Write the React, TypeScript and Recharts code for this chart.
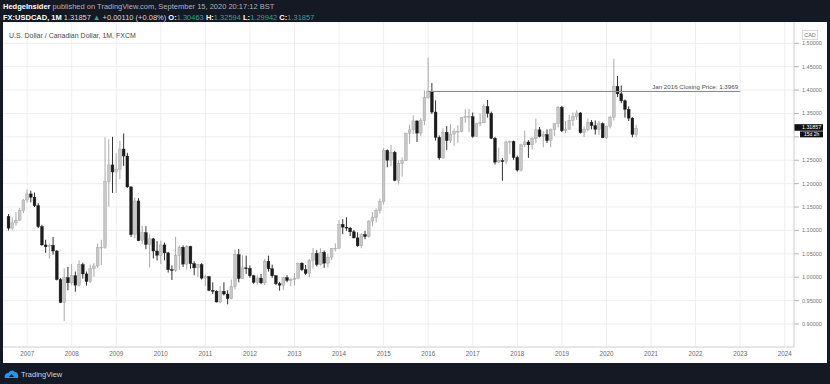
import React from 'react'
import { ComposedChart, Bar, XAxis, YAxis, CartesianGrid, ReferenceLine } from 'recharts'

// axis runs monthly from Jul 2006 to Mar 2024, candles start Aug 2006
const axisStart = { year: 2006, month: 6 }
const axisMonths = 213
const candleStart = { year: 2006, month: 7 }

// USD/CAD monthly OHLC, one line per year (2006 starts in Aug, 2020 ends in Sep)
const opens = [
  1.130, 1.105, 1.116, 1.122, 1.142,
  1.165, 1.178, 1.171, 1.153, 1.108, 1.069, 1.065, 1.068, 1.056, 0.995, 0.946, 0.999,
  0.988, 1.003, 0.983, 1.027, 1.007, 0.991, 1.018, 1.024, 1.063, 1.064, 1.204, 1.240,
  1.225, 1.231, 1.274, 1.259, 1.193, 1.091, 1.163, 1.078, 1.095, 1.070, 1.082, 1.056,
  1.047, 1.069, 1.052, 1.016, 1.015, 1.046, 1.064, 1.028, 1.066, 1.029, 1.020, 1.027,
  0.998, 1.001, 0.972, 0.970, 0.947, 0.970, 0.964, 0.954, 0.980, 1.048, 0.997, 1.020,
  1.019, 1.003, 0.989, 0.998, 0.988, 1.034, 1.018, 1.003, 0.986, 0.983, 0.999, 0.993,
  0.995, 0.998, 1.030, 1.016, 1.008, 1.036, 1.051, 1.027, 1.053, 1.030, 1.043, 1.061,
  1.062, 1.113, 1.107, 1.105, 1.097, 1.084, 1.067, 1.091, 1.087, 1.120, 1.127, 1.143,
  1.162, 1.271, 1.250, 1.267, 1.207, 1.243, 1.249, 1.308, 1.315, 1.334, 1.308, 1.335,
  1.384, 1.397, 1.353, 1.299, 1.255, 1.310, 1.292, 1.306, 1.311, 1.312, 1.341, 1.343,
  1.343, 1.301, 1.328, 1.330, 1.365, 1.350, 1.297, 1.246, 1.249, 1.248, 1.289, 1.290,
  1.256, 1.229, 1.283, 1.289, 1.283, 1.296, 1.315, 1.301, 1.305, 1.292, 1.316, 1.328,
  1.363, 1.313, 1.316, 1.335, 1.343, 1.351, 1.309, 1.316, 1.331, 1.324, 1.316, 1.328,
  1.298, 1.323, 1.342, 1.408, 1.392, 1.377, 1.359, 1.340, 1.30463,
]
const highs = [
  1.135, 1.128, 1.139, 1.148, 1.167,
  1.188, 1.185, 1.181, 1.158, 1.112, 1.080, 1.072, 1.086, 1.058, 0.998, 1.019, 1.022,
  1.028, 1.012, 1.036, 1.031, 1.012, 1.027, 1.030, 1.072, 1.080, 1.299, 1.295, 1.300,
  1.265, 1.291, 1.307, 1.266, 1.194, 1.170, 1.169, 1.110, 1.109, 1.092, 1.084, 1.077,
  1.078, 1.074, 1.054, 1.025, 1.086, 1.068, 1.068, 1.069, 1.067, 1.034, 1.028, 1.030,
  1.005, 1.003, 0.989, 0.972, 0.981, 0.989, 0.972, 0.995, 1.059, 1.060, 1.047, 1.046,
  1.025, 1.005, 1.004, 1.007, 1.039, 1.046, 1.027, 1.005, 0.990, 1.001, 1.004, 0.998,
  1.009, 1.031, 1.032, 1.026, 1.039, 1.062, 1.058, 1.062, 1.057, 1.050, 1.062, 1.072,
  1.122, 1.124, 1.128, 1.107, 1.101, 1.096, 1.094, 1.099, 1.122, 1.139, 1.147, 1.168,
  1.276, 1.273, 1.283, 1.270, 1.250, 1.256, 1.309, 1.326, 1.346, 1.335, 1.340, 1.399,
  1.469, 1.415, 1.378, 1.303, 1.318, 1.323, 1.327, 1.318, 1.325, 1.342, 1.359, 1.360,
  1.352, 1.330, 1.350, 1.370, 1.379, 1.354, 1.300, 1.277, 1.255, 1.292, 1.292, 1.292,
  1.260, 1.285, 1.313, 1.293, 1.299, 1.339, 1.321, 1.312, 1.316, 1.318, 1.329, 1.366,
  1.366, 1.334, 1.347, 1.352, 1.357, 1.353, 1.322, 1.339, 1.336, 1.335, 1.334, 1.331,
  1.324, 1.345, 1.467, 1.430, 1.410, 1.380, 1.365, 1.342, 1.32594,
]
const lows = [
  1.100, 1.100, 1.110, 1.120, 1.137,
  1.159, 1.160, 1.150, 1.105, 1.067, 1.052, 1.040, 1.048, 0.993, 0.945, 0.906, 0.972,
  0.983, 0.969, 0.980, 0.997, 0.982, 0.988, 1.001, 1.020, 1.026, 1.061, 1.151, 1.180,
  1.180, 1.210, 1.238, 1.191, 1.086, 1.083, 1.077, 1.071, 1.060, 1.021, 1.040, 1.036,
  1.028, 1.036, 1.010, 0.994, 1.011, 1.016, 1.022, 1.016, 1.018, 1.004, 1.000, 0.995,
  0.981, 0.970, 0.964, 0.946, 0.944, 0.961, 0.942, 0.953, 0.974, 0.989, 0.997, 1.007,
  0.999, 0.986, 0.984, 0.985, 0.983, 1.012, 0.999, 0.983, 0.971, 0.973, 0.989, 0.981,
  0.982, 0.996, 1.013, 1.005, 1.000, 1.019, 1.023, 1.025, 1.020, 1.021, 1.037, 1.055,
  1.061, 1.092, 1.099, 1.088, 1.083, 1.065, 1.062, 1.081, 1.085, 1.109, 1.117, 1.136,
  1.155, 1.235, 1.237, 1.205, 1.198, 1.215, 1.248, 1.285, 1.306, 1.289, 1.301, 1.325,
  1.381, 1.349, 1.292, 1.251, 1.253, 1.272, 1.287, 1.281, 1.287, 1.310, 1.330, 1.310,
  1.298, 1.300, 1.323, 1.329, 1.341, 1.295, 1.241, 1.244, 1.206, 1.242, 1.263, 1.251,
  1.226, 1.226, 1.278, 1.255, 1.273, 1.286, 1.299, 1.278, 1.287, 1.278, 1.302, 1.320,
  1.310, 1.308, 1.316, 1.323, 1.336, 1.307, 1.300, 1.312, 1.316, 1.305, 1.304, 1.297,
  1.295, 1.318, 1.335, 1.385, 1.372, 1.341, 1.334, 1.299, 1.29942,
]
const closes = [
  1.105, 1.116, 1.122, 1.142, 1.165,
  1.178, 1.171, 1.153, 1.108, 1.069, 1.065, 1.068, 1.056, 0.995, 0.946, 0.999, 0.988,
  1.003, 0.983, 1.027, 1.007, 0.991, 1.018, 1.024, 1.063, 1.064, 1.204, 1.240, 1.225,
  1.231, 1.274, 1.259, 1.193, 1.091, 1.163, 1.078, 1.095, 1.070, 1.082, 1.056, 1.047,
  1.069, 1.052, 1.016, 1.015, 1.046, 1.064, 1.028, 1.066, 1.029, 1.020, 1.027, 0.998,
  1.001, 0.972, 0.970, 0.947, 0.970, 0.964, 0.954, 0.980, 1.048, 0.997, 1.020, 1.019,
  1.003, 0.989, 0.998, 0.988, 1.034, 1.018, 1.003, 0.986, 0.983, 0.999, 0.993, 0.995,
  0.998, 1.030, 1.016, 1.008, 1.036, 1.051, 1.027, 1.053, 1.030, 1.043, 1.061, 1.062,
  1.113, 1.107, 1.105, 1.097, 1.084, 1.067, 1.091, 1.087, 1.120, 1.127, 1.143, 1.162,
  1.271, 1.250, 1.267, 1.207, 1.243, 1.249, 1.308, 1.315, 1.334, 1.308, 1.335, 1.384,
  1.397, 1.353, 1.299, 1.255, 1.310, 1.292, 1.306, 1.311, 1.312, 1.341, 1.343, 1.343,
  1.301, 1.328, 1.330, 1.365, 1.350, 1.297, 1.246, 1.249, 1.248, 1.289, 1.290, 1.256,
  1.229, 1.283, 1.289, 1.283, 1.296, 1.315, 1.301, 1.305, 1.292, 1.316, 1.328, 1.363,
  1.313, 1.316, 1.335, 1.343, 1.351, 1.309, 1.316, 1.331, 1.324, 1.316, 1.328, 1.298,
  1.323, 1.342, 1.408, 1.392, 1.377, 1.359, 1.340, 1.305, 1.31857,
]

const yearLabels = [
  '2007', '2008', '2009', '2010', '2011', '2012', '2013', '2014', '2015',
  '2016', '2017', '2018', '2019', '2020', '2021', '2022', '2023', '2024',
]
const priceTicks = [0.9, 0.95, 1.0, 1.05, 1.1, 1.15, 1.2, 1.25, 1.3, 1.35, 1.4, 1.45, 1.5]
const priceDomain = [0.8508, 1.5455]

const jan2016Close = 1.3969
const lineFrom = '2016-01'
const lineTo = '2023-01'
const lastPrice = 1.31857
const timeLeft = '15d 2h'

const monthKey = (y: number, m: number) => `${y}-${String(m + 1).padStart(2, '0')}`

const candleOffset =
  (candleStart.year - axisStart.year) * 12 + candleStart.month - axisStart.month

const rows = Array.from({ length: axisMonths }, (_, i) => {
  const t = axisStart.month + i
  const key = monthKey(axisStart.year + Math.floor(t / 12), t % 12)
  const j = i - candleOffset
  if (j < 0 || j >= closes.length) return { key }
  return {
    key,
    o: opens[j],
    h: highs[j],
    l: lows[j],
    c: closes[j],
    range: [lows[j], highs[j]],
  }
})

const yearKeys = yearLabels.map((y) => `${y}-01`)

const UP_FILL = '#c7c7c7'
const UP_LINE = '#9f9f9f'
const DOWN = '#1b1b1b'

function Candle(props: any) {
  const { x, y, width, height, payload } = props
  if (!payload || payload.o == null || !isFinite(height) || height === 0) return null
  const { o, h, l, c } = payload
  const top = Math.min(y, y + height)
  const span = Math.abs(height)
  const px = span / (h - l)
  const yOf = (v: number) => top + (h - v) * px
  const cx = x + width / 2
  const up = c >= o
  const bTop = yOf(Math.max(o, c))
  const bBot = yOf(Math.min(o, c))
  const bw = 2.8
  return (
    <g>
      <line x1={cx} x2={cx} y1={top} y2={top + span} stroke={up ? UP_LINE : DOWN} strokeWidth={0.9} />
      <rect
        x={cx - bw / 2}
        y={bTop}
        width={bw}
        height={Math.max(bBot - bTop, 0.8)}
        fill={up ? UP_FILL : DOWN}
        stroke={up ? UP_LINE : DOWN}
        strokeWidth={0.4}
      />
    </g>
  )
}

// price labels; the one under the last-price tag is hidden like on TradingView
function PriceTick(props: any) {
  const { x, y, payload } = props
  const v = payload?.value
  if (v == null || Math.abs(v - lastPrice) < 0.025) return null
  return (
    <text x={x} y={y} dy="0.36em" fontSize={5.5} fill="#747474">
      {Number(v).toFixed(5)}
    </text>
  )
}

function PriceTag(props: any) {
  const vb = props.viewBox
  if (!vb) return null
  const x = vb.x + vb.width
  const y = vb.y
  return (
    <g>
      <rect x={x} y={y - 4} width={29} height={6.6} fill="#111" />
      <text x={x + 8} y={y + 1.2} fontSize={5.3} fill="#fff">
        {lastPrice.toFixed(5)}
      </text>
      <rect x={x + 6} y={y + 3.2} width={23} height={6} fill="#111" />
      <text x={x + 10} y={y + 8} fontSize={5} fill="#fff">
        {timeLeft}
      </text>
    </g>
  )
}

function LineNote(props: any) {
  const vb = props.viewBox
  if (!vb) return null
  return (
    <text x={vb.x + vb.width - 2} y={vb.y - 2.5} textAnchor="end" fontSize={6.2} fill="#4d4d4d">
      Jan 2016 Closing Price: {jan2016Close.toFixed(4)}
    </text>
  )
}

const font = '"Liberation Sans", Arial, sans-serif'
const teal = '#26a69a'

export default function App() {
  return (
    <div
      style={{
        position: 'absolute',
        left: 0,
        top: 0,
        width: 830,
        height: 384,
        background: '#151924',
        overflow: 'hidden',
        fontFamily: font,
      }}
    >
      <div style={{ position: 'absolute', left: 3, top: 2, fontSize: 7.5, lineHeight: '9px', color: '#aeb1ba', whiteSpace: 'nowrap' }}>
        <b style={{ color: '#fff' }}>HedgeInsider</b> published on TradingView.com, September 15, 2020 20:17:12 BST
      </div>
      <div style={{ position: 'absolute', left: 3, top: 13, fontSize: 7.5, lineHeight: '9px', color: '#d8d8d8', whiteSpace: 'nowrap' }}>
        <b style={{ color: '#fff' }}>FX:USDCAD, 1M</b> 1.31857 <span style={{ color: teal }}>▲</span> +0.00110 (+0.08%){' '}
        <b style={{ color: '#fff' }}>O:</b><span style={{ color: teal }}>1.30463</span>{' '}
        <b style={{ color: '#fff' }}>H:</b><span style={{ color: teal }}>1.32594</span>{' '}
        <b style={{ color: '#fff' }}>L:</b><span style={{ color: teal }}>1.29942</span>{' '}
        <b style={{ color: '#fff' }}>C:</b><span style={{ color: teal }}>1.31857</span>
      </div>

      <div style={{ position: 'absolute', left: 3, top: 22, width: 824, height: 341, background: '#fff' }}>
        <ComposedChart
          width={824}
          height={341}
          data={rows}
          margin={{ top: 0, right: 0, bottom: 0, left: 0 }}
          barCategoryGap="8%"
          style={{ fontFamily: font }}
        >
          <CartesianGrid stroke="#eeeff2" strokeWidth={1} />
          <XAxis
            dataKey="key"
            ticks={yearKeys}
            interval={0}
            height={16}
            tickFormatter={(v: string) => String(v).slice(0, 4)}
            tick={{ fontSize: 6.3, fill: '#6a6a6a' }}
            tickLine={false}
            tickSize={5}
            tickMargin={0}
            axisLine={{ stroke: '#d4d6db' }}
          />
          <YAxis
            orientation="right"
            width={33}
            domain={priceDomain}
            allowDataOverflow
            ticks={priceTicks}
            interval={0}
            tick={<PriceTick />}
            tickLine={{ stroke: '#b5b5b5' }}
            tickSize={5}
            tickMargin={3}
            axisLine={{ stroke: '#d4d6db' }}
          />
          <Bar dataKey="range" shape={<Candle />} isAnimationActive={false} />
          <ReferenceLine
            segment={[
              { x: lineFrom, y: jan2016Close },
              { x: lineTo, y: jan2016Close },
            ]}
            stroke="#8a8a8a"
            strokeWidth={1}
            label={<LineNote />}
          />
          <ReferenceLine y={lastPrice} stroke="none" label={<PriceTag />} />
        </ComposedChart>
        <div style={{ position: 'absolute', left: 6, top: 8.5, fontSize: 7, lineHeight: '9px', color: '#4a4a4a', whiteSpace: 'nowrap' }}>
          U.S. Dollar / Canadian Dollar, 1M, FXCM
        </div>
        <div
          style={{
            position: 'absolute',
            left: 799,
            top: 8,
            width: 14,
            height: 8,
            border: '0.5px solid #d9d9d9',
            fontSize: 5.5,
            lineHeight: '8px',
            textAlign: 'center',
            color: '#777',
          }}
        >
          CAD
        </div>
      </div>

      <div style={{ position: 'absolute', left: 4, top: 369, display: 'flex', alignItems: 'center' }}>
        <svg width={15} height={10} viewBox="0 0 15 10">
          <path
            d="M1 9 C0 6 2 3.5 4.5 4 C5.5 1 9.5 0.5 11 3 C13.5 3 15 6 14 9 Z"
            fill="#2196f3"
          />
          <path d="M5 8 L7.5 5 L10 8 Z" fill="#151924" />
        </svg>
        <span style={{ marginLeft: 2, fontSize: 7.5, color: '#d0d3db' }}>TradingView</span>
      </div>
    </div>
  )
}
